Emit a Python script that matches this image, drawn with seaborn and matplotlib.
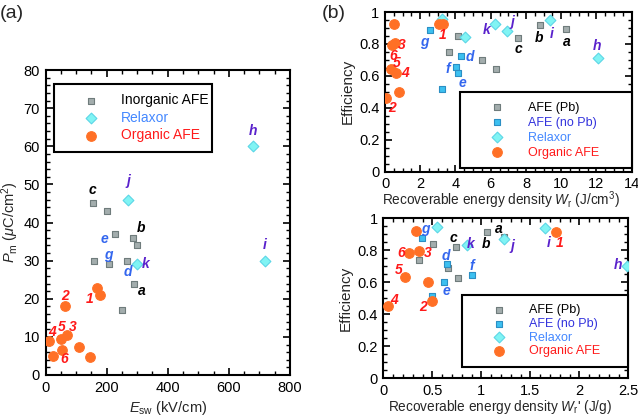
import matplotlib
matplotlib.use("Agg")
import matplotlib.pyplot as plt
import seaborn as sns
import pandas as pd
from matplotlib.ticker import MultipleLocator

# ---- panel (a) data: switching field vs max polarization ----
inorg_E = [155, 200, 229, 287, 298, 158, 208, 268, 289, 251]
inorg_P = [45, 43, 37, 36, 34, 30, 29, 30, 23.8, 17]
relax_E = [270, 298, 680, 718]
relax_P = [46, 29, 60, 30]
org_E = [167, 178, 63, 12, 50, 69, 110, 54, 23, 147]
org_P = [22.7, 21, 18, 9, 9.4, 10.5, 7.4, 6.6, 5.1, 4.8]

# ---- panel (b) top: efficiency vs W_r (J/cm3) ----
pb_W = [4.12, 3.65, 5.52, 6.32, 7.52, 8.80, 10.29]
pb_eff = [0.85, 0.75, 0.70, 0.64, 0.835, 0.918, 0.896]
nopb_W = [2.57, 4.33, 4.03, 4.16, 3.26]
nopb_eff = [0.886, 0.722, 0.653, 0.615, 0.52]
rel_W = [3.22, 4.54, 6.24, 6.93, 9.36, 12.06]
rel_eff = [0.958, 0.845, 0.926, 0.878, 0.948, 0.713]
orgb_W = [0.51, 3.08, 3.31, 0.41, 0.55, 0.32, 0.61, 0.78, 0.05]
orgb_eff = [0.925, 0.922, 0.922, 0.79, 0.805, 0.645, 0.615, 0.498, 0.458]

# ---- panel (b) bottom: efficiency vs W_r' (J/g) ----
pb_Wg = [1.054, 1.23, 0.503, 0.74, 0.367, 0.663, 0.765]
pb_effg = [0.912, 0.885, 0.837, 0.823, 0.74, 0.69, 0.63]
nopb_Wg = [0.391, 0.653, 0.619, 0.493, 0.90]
nopb_effg = [0.875, 0.712, 0.604, 0.515, 0.646]
rel_Wg = [0.551, 0.85, 1.235, 1.646, 2.49]
rel_effg = [0.944, 0.833, 0.871, 0.9375, 0.704]
orgb_Wg = [0.333, 0.265, 0.367, 0.221, 0.452, 0.493, 0.051, 1.759]
orgb_effg = [0.921, 0.781, 0.796, 0.631, 0.604, 0.485, 0.452, 0.917]

# point labels (text, x, y) in data units
labels_a = [("c", 155, 48.5), ("j", 271, 51), ("h", 680, 64), ("i", 718, 34),
            ("b", 313, 38.5), ("e", 192, 35.7), ("g", 205, 31.5), ("d", 270, 27.1),
            ("k", 328, 29), ("a", 314, 22), ("2", 65, 20.8), ("1", 145, 20),
            ("4", 22, 11.3), ("5", 52, 12.6), ("3", 88, 12.6), ("6", 60, 4.1)]
labels_b1 = [("g", 2.23, 0.81), ("1", 3.27, 0.855), ("k", 5.77, 0.886), ("j", 7.25, 0.94),
             ("i", 9.46, 0.865), ("b", 8.74, 0.834), ("a", 10.31, 0.814), ("c", 7.6, 0.768),
             ("h", 12.01, 0.785), ("d", 4.79, 0.716), ("f", 3.59, 0.642), ("e", 4.41, 0.555),
             ("3", 0.95, 0.793), ("6", 0.45, 0.725), ("5", 0.66, 0.68), ("4", 1.14, 0.62),
             ("2", 0.38, 0.40)]
labels_b2 = [("g", 0.425, 0.93), ("c", 0.714, 0.88), ("k", 0.895, 0.84), ("a", 1.18, 0.933),
             ("b", 1.044, 0.84), ("j", 1.32, 0.827), ("i", 1.684, 0.848), ("1", 1.796, 0.848),
             ("h", 2.40, 0.708), ("6", 0.187, 0.781), ("3", 0.452, 0.781), ("d", 0.64, 0.765),
             ("5", 0.16, 0.677), ("f", 0.90, 0.70), ("e", 0.64, 0.548), ("4", 0.109, 0.49),
             ("2", 0.408, 0.448)]

# colours
grey_face, grey_edge = "#a3adad", "#6f7c7c"
blue_face, blue_edge = "#3cc0f0", "#2b8fc4"
cyan_face, cyan_edge = "#80f4f4", "#5cd6e6"
orange = "#ff7026"
col_black, col_blue, col_purple, col_red = "black", "#3366ee", "#5a22cc", "#ff1a1a"
legend_text_blue = "#4488ff"


def label_color(t):
    if t.isdigit():
        return col_red
    if t in "abc":
        return col_black
    if t in "defg":
        return col_blue
    return col_purple


sns.set_style("ticks")
plt.rcParams['font.family'] = ['Liberation Sans', 'DejaVu Sans']
plt.rcParams['mathtext.fontset'] = 'custom'
plt.rcParams['mathtext.it'] = 'Liberation Sans:italic'
plt.rcParams['mathtext.rm'] = 'Liberation Sans'

fig = plt.figure(figsize=(6.38, 4.2), dpi=100)
ax_a = fig.add_axes([45.5 / 638, 1 - 375 / 420, 244.5 / 638, 305 / 420])
ax_b1 = fig.add_axes([385 / 638, 1 - 171.5 / 420, 246.7 / 638, 159.5 / 420])
ax_b2 = fig.add_axes([383.3 / 638, 1 - 378.3 / 420, 245 / 638, 160 / 420])


def style_axes(ax):
    for s in ax.spines.values():
        s.set_linewidth(1.5)
        s.set_color("black")
    ax.tick_params(which="both", direction="in", top=True, right=True,
                   labelsize=10.5, colors="black", pad=4)
    ax.tick_params(which="major", length=5, width=1.2)
    ax.tick_params(which="minor", length=2.8, width=1)


def scatter(ax, x, y, marker, face, edge, s, label):
    df = pd.DataFrame({"x": x, "y": y})
    sns.scatterplot(data=df, x="x", y="y", ax=ax, marker=marker, color=face,
                    edgecolor=edge, linewidth=0.8, s=s, label=label, zorder=3)


def put_labels(ax, items):
    for t, x, y in items:
        ax.text(x, y, t, color=label_color(t), fontsize=10, fontweight="bold",
                style="italic", ha="center", va="center", zorder=4)


def make_legend(ax, anchor, colors, fs, hl, bp, ls):
    leg = ax.legend(loc="lower left", bbox_to_anchor=anchor, mode="expand",
                    frameon=True, fancybox=False, fontsize=fs, handlelength=hl,
                    handletextpad=0.2, borderpad=bp, labelspacing=ls,
                    borderaxespad=0)
    leg.get_frame().set_edgecolor("black")
    leg.get_frame().set_linewidth(1.5)
    leg.get_frame().set_alpha(1)
    for txt, c in zip(leg.get_texts(), colors):
        txt.set_color(c)
    return leg


# ---- panel (a) ----
scatter(ax_a, inorg_E, inorg_P, "s", grey_face, grey_edge, 22, "Inorganic AFE")
scatter(ax_a, relax_E, relax_P, "D", cyan_face, cyan_edge, 30, "Relaxor")
scatter(ax_a, org_E, org_P, "o", orange, orange, 48, "Organic AFE")
put_labels(ax_a, labels_a)
ax_a.set_xlim(0, 800)
ax_a.set_ylim(0, 80)
ax_a.xaxis.set_major_locator(MultipleLocator(200))
ax_a.xaxis.set_minor_locator(MultipleLocator(50))
ax_a.yaxis.set_major_locator(MultipleLocator(10))
ax_a.yaxis.set_minor_locator(MultipleLocator(2))
ax_a.set_xlabel(r"$E_{\rm sw}$ (kV/cm)", fontsize=10.5, labelpad=3)
ax_a.set_ylabel(r"$P_{\rm m}$ ($\mu$C/cm$^2$)", fontsize=10.5, labelpad=2)
style_axes(ax_a)
make_legend(ax_a, (8.5 / 244.5, (375 - 152) / 305, 158 / 244.5, 0.2),
            [col_black, legend_text_blue, col_red], 10, 3.9, 0.7, 0.25)
fig.text(0.0, 1 - 14 / 420, "(a)", fontsize=14, va="center", ha="left")

# ---- panel (b) top ----
scatter(ax_b1, pb_W, pb_eff, "s", grey_face, grey_edge, 22, "AFE (Pb)")
scatter(ax_b1, nopb_W, nopb_eff, "s", blue_face, blue_edge, 22, "AFE (no Pb)")
scatter(ax_b1, rel_W, rel_eff, "D", cyan_face, cyan_edge, 30, "Relaxor")
scatter(ax_b1, orgb_W, orgb_eff, "o", orange, orange, 48, "Organic AFE")
put_labels(ax_b1, labels_b1)
ax_b1.set_xlim(0, 14)
ax_b1.set_ylim(0, 1)
ax_b1.xaxis.set_major_locator(MultipleLocator(2))
ax_b1.xaxis.set_minor_locator(MultipleLocator(0.5))
ax_b1.yaxis.set_minor_locator(MultipleLocator(0.05))
ax_b1.set_yticks([0, 0.2, 0.4, 0.6, 0.8, 1.0], ["0", "0.2", "0.4", "0.6", "0.8", "1"])
ax_b1.set_xlabel(r"Recoverable energy density $W_{\rm r}$ (J/cm$^3$)", fontsize=9.8)
ax_b1.xaxis.set_label_coords(0.47, -0.115)
ax_b1.set_ylabel("Efficiency", fontsize=11, labelpad=3)
style_axes(ax_b1)
make_legend(ax_b1, (75 / 246.7, 3.5 / 159.5, 171.7 / 246.7, 0.4),
            [col_black, "#3333dd", legend_text_blue, col_red], 9, 4.47, 0.75, 0.24)
fig.text(322 / 638, 1 - 14 / 420, "(b)", fontsize=14, va="center", ha="left")

# ---- panel (b) bottom ----
scatter(ax_b2, pb_Wg, pb_effg, "s", grey_face, grey_edge, 22, "AFE (Pb)")
scatter(ax_b2, nopb_Wg, nopb_effg, "s", blue_face, blue_edge, 22, "AFE (no Pb)")
scatter(ax_b2, rel_Wg, rel_effg, "D", cyan_face, cyan_edge, 30, "Relaxor")
scatter(ax_b2, orgb_Wg, orgb_effg, "o", orange, orange, 48, "Organic AFE")
put_labels(ax_b2, labels_b2)
ax_b2.set_xlim(0, 2.5)
ax_b2.set_ylim(0, 1)
ax_b2.xaxis.set_minor_locator(MultipleLocator(0.1))
ax_b2.yaxis.set_minor_locator(MultipleLocator(0.05))
ax_b2.set_xticks([0, 0.5, 1.0, 1.5, 2.0, 2.5], ["0", "0.5", "1", "1.5", "2", "2.5"])
ax_b2.set_yticks([0, 0.2, 0.4, 0.6, 0.8, 1.0], ["0", "0.2", "0.4", "0.6", "0.8", "1"])
ax_b2.set_xlabel(r"Recoverable energy density $W_{\rm r}$' (J/g)", fontsize=9.8)
ax_b2.xaxis.set_label_coords(0.475, -0.125)
ax_b2.set_ylabel("Efficiency", fontsize=11, labelpad=3)
style_axes(ax_b2)
make_legend(ax_b2, (78.4 / 245, 11.6 / 160, 166.6 / 245, 0.4),
            [col_black, "#3333dd", legend_text_blue, col_red], 9, 4.47, 0.75, 0.14)

fig.savefig("out.png", dpi=100)
